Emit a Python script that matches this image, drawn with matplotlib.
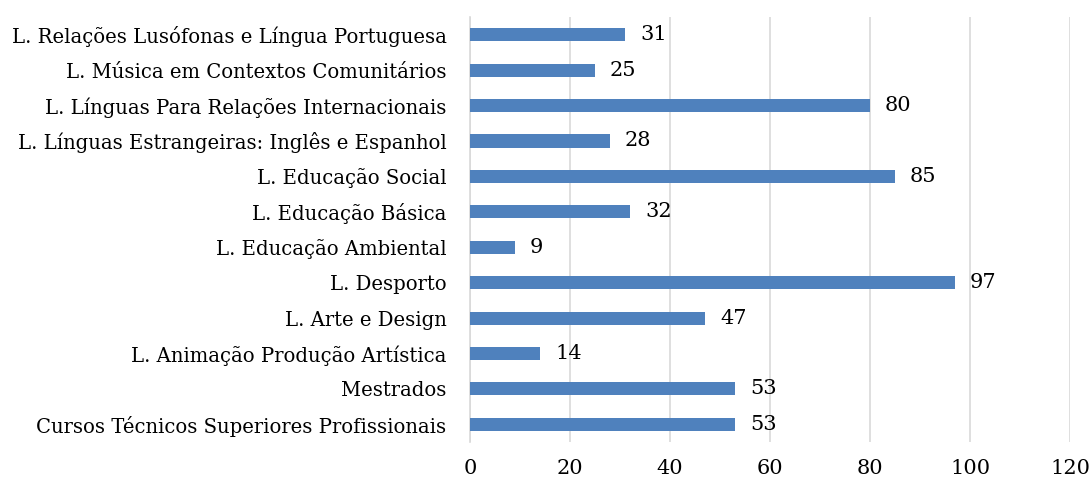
import matplotlib
matplotlib.use("Agg")
import matplotlib.pyplot as plt

categories = [
    "Cursos Técnicos Superiores Profissionais",
    "Mestrados",
    "L. Animação Produção Artística",
    "L. Arte e Design",
    "L. Desporto",
    "L. Educação Ambiental",
    "L. Educação Básica",
    "L. Educação Social",
    "L. Línguas Estrangeiras: Inglês e Espanhol",
    "L. Línguas Para Relações Internacionais",
    "L. Música em Contextos Comunitários",
    "L. Relações Lusófonas e Língua Portuguesa",
]
values = [53, 53, 14, 47, 97, 9, 32, 85, 28, 80, 25, 31]
xticks = [0, 20, 40, 60, 80, 100, 120]

plt.rcParams['font.family'] = ['DejaVu Serif']

fig = plt.figure(figsize=(10.91, 4.79), dpi=100)
ax = fig.add_axes([0.4308, 0.0772, 0.5500, 0.8873])

y = list(range(len(categories)))
ax.barh(y, values, height=0.37, color="#4f81bd", zorder=3)
for yi, v in zip(y, values):
    ax.text(v + 3, yi, str(v), va="center", ha="left", fontsize=15, color="#000000")

ax.set_xlim(0, 120)
ax.set_ylim(-0.5, len(categories) - 0.5)
ax.set_xticks(xticks)
ax.set_xticklabels([str(t) for t in xticks], fontsize=15)
ax.set_yticks(y)
ax.set_yticklabels(categories, fontsize=14.1)
ax.tick_params(axis="x", length=0, pad=12)
ax.tick_params(axis="y", length=0, pad=17)
ax.grid(axis="x", color="#d9d9d9", linewidth=1.2, zorder=0)
for s in ["top", "right", "bottom"]:
    ax.spines[s].set_visible(False)
ax.spines["left"].set_color("#d9d9d9")
ax.spines["left"].set_linewidth(1.2)

fig.savefig("out.png", dpi=100)
